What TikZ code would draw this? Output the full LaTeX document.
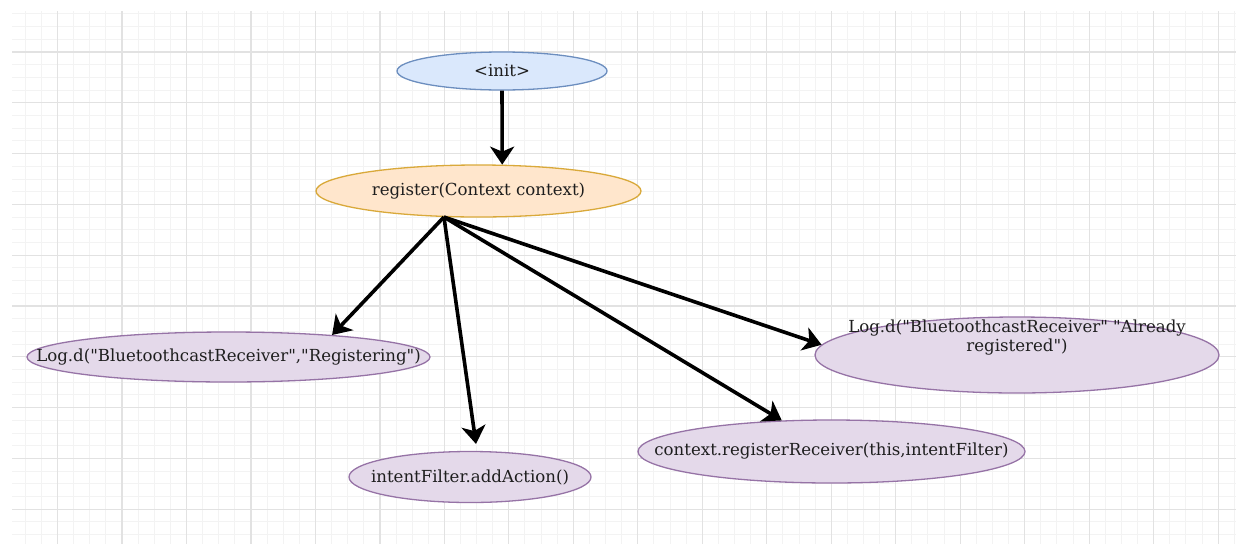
\documentclass[tikz,border=0pt]{standalone}
\usepackage{fontspec}
\newfontfamily\diagfont{DejaVu Serif}
\usetikzlibrary{arrows.meta,shapes.geometric}
\definecolor{bluefill}{HTML}{DAE8FC}
\definecolor{bluedraw}{HTML}{6C8EBF}
\definecolor{orfill}{HTML}{FFE6CC}
\definecolor{ordraw}{HTML}{D9A93A}
\definecolor{pufill}{HTML}{E4D9EA}
\definecolor{pudraw}{HTML}{9673A6}
\definecolor{txt}{HTML}{1E1E1E}
\definecolor{gridminor}{HTML}{F3F3F3}
\definecolor{gridmajor}{HTML}{E2E2E2}
\tikzset{
  ell/.style={ellipse, draw, line width=1.3pt, inner sep=0pt, text=txt,
    font=\diagfont\fontsize{16.6pt}{19pt}\selectfont},
  blueell/.style={ell, fill=bluefill, draw=bluedraw},
  orell/.style={ell, fill=orfill, draw=ordraw},
  puell/.style={ell, fill=pufill, draw=pudraw},
  conn/.style={line width=3.6pt, black,
    -{Stealth[length=18pt, width=24pt, inset=5pt]}},
  minorline/.style={gridminor, line width=1pt},
  majorline/.style={gridmajor, line width=1.2pt}
}
\begin{document}
\begin{tikzpicture}[x=1pt, y=-1pt]
\useasboundingbox (0,0) rectangle (1236,544);
\fill[white] (0,0) rectangle (1236,544);
% grid
\foreach \k in {-2,...,73} {
  \pgfmathsetmacro{\xx}{57.5+16.12*\k}
  \draw[minorline] (\xx,11) -- (\xx,544);
}
\foreach \k in {-3,...,38} {
  \pgfmathsetmacro{\yy}{52+12.7*\k}
  \draw[minorline] (12,\yy) -- (1236,\yy);
}
\foreach \k in {0,...,18} {
  \pgfmathsetmacro{\xx}{57.5+64.48*\k}
  \draw[majorline] (\xx,11) -- (\xx,544);
}
\foreach \k in {0,...,9} {
  \pgfmathsetmacro{\yy}{52+50.8*\k}
  \draw[majorline] (12,\yy) -- (1236,\yy);
}
% nodes
\node[blueell, minimum width=210pt, minimum height=38pt] (init) at (502,71)
  {\makebox[0pt]{<init>}};
\node[orell, minimum width=325pt, minimum height=52pt] (reg) at (478.5,191)
  {\makebox[0pt]{register(Context context)}};
\node[puell, minimum width=403pt, minimum height=50pt] (logreg) at (228.5,357)
  {\makebox[0pt]{Log.d("BluetoothcastReceiver","Registering")}};
\node[puell, minimum width=242pt, minimum height=51pt] (intent) at (470,477)
  {\makebox[0pt]{intentFilter.addAction()}};
\node[puell, minimum width=387pt, minimum height=63pt] (ctx) at (831.5,451.5)
  {\makebox[0pt]{context.registerReceiver(this,intentFilter)}};
\node[puell, minimum width=404pt, minimum height=76pt] (already) at (1017,355)
  {\makebox[0pt]{\raisebox{12pt}[0pt][0pt]{\begin{tabular}{@{}c@{}}Log.d("BluetoothcastReceiver" "Already\\registered")\end{tabular}}}};
% connectors
\draw[conn] (init.south) -- (reg.48);
\draw[conn] (reg.217) -- (logreg.12);
\draw[conn, shorten >=7pt] (reg.217) -- (intent.75);
\draw[conn] (reg.217) -- (ctx.148);
\draw[conn] (reg.217) -- (already.177);
\end{tikzpicture}
\end{document}
